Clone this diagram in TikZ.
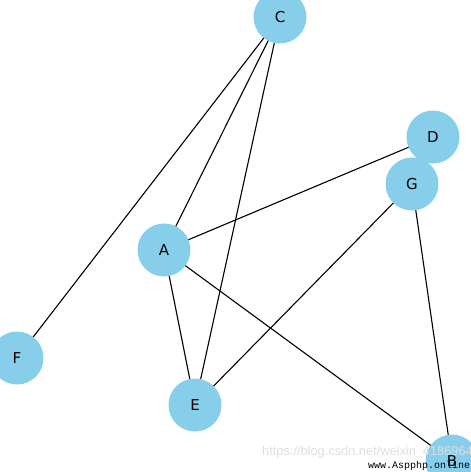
\documentclass[tikz,border=0pt]{standalone}
\usepackage{fontspec}
\setmainfont{DejaVu Sans}
\newfontfamily\wmmono{Liberation Mono}
\newfontfamily\wmsans{Liberation Sans}
\usetikzlibrary{backgrounds}
\definecolor{nodeblue}{HTML}{87CEEB}
\begin{document}
\begin{tikzpicture}[x=1pt,y=-1pt,
  vtx/.style={circle,fill=nodeblue,minimum size=53pt,inner sep=0pt,font=\fontsize{15}{15}\selectfont},
  edge/.style={line width=1.1pt,black},
  wmark/.style={inner sep=0pt,anchor=base west}]
\useasboundingbox (0,0) rectangle (471,472);
\node[vtx] (C) at (280,17) {C};
\node[vtx] (D) at (433,137) {D};
\node[vtx] (G) at (412,184) {G};
\node[vtx] (A) at (164,250) {A};
\node[vtx] (F) at (17,358) {F};
\node[vtx] (E) at (195,405) {E};
\node[vtx] (B) at (452,461) {B};
\begin{scope}[on background layer]
\draw[edge] (C.center) -- (A.center);
\draw[edge] (C.center) -- (E.center);
\draw[edge] (C.center) -- (F.center);
\draw[edge] (A.center) -- (D.center);
\draw[edge] (A.center) -- (E.center);
\draw[edge] (A.center) -- (B.center);
\draw[edge] (G.center) -- (E.center);
\draw[edge] (G.center) -- (B.center);
\end{scope}
\node[wmark,text=black!13,font=\wmsans\fontsize{12.8}{12.8}\selectfont] (wm1) at (262,455) {https://blog.csdn.net/weixin\_41869644};
\node[wmark,text=black,font=\wmmono\fontsize{10}{10}\selectfont] (wm2) at (368,468) {www.Aspphp.online};
\end{tikzpicture}
\end{document}
